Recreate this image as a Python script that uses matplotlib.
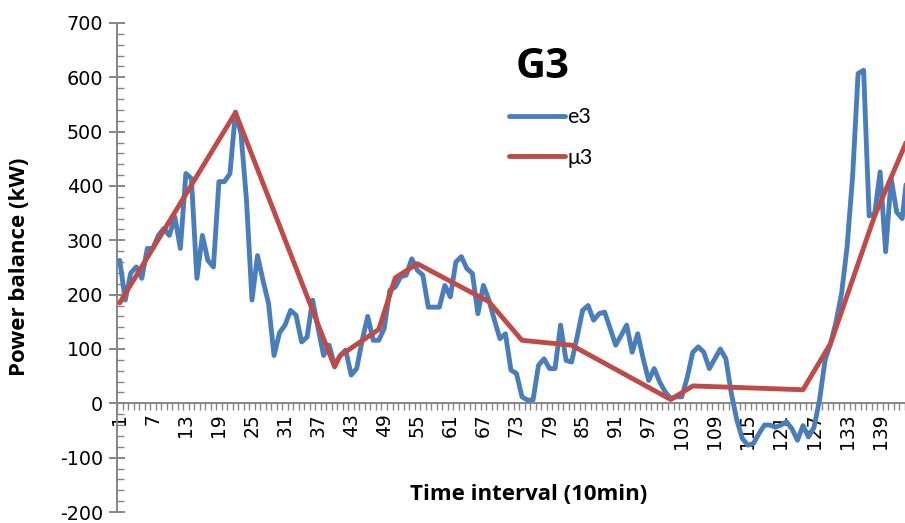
import numpy as np
import matplotlib
matplotlib.use("Agg")
import matplotlib.pyplot as plt
from matplotlib.ticker import FixedLocator, MultipleLocator

plt.rcParams["axes.unicode_minus"] = False

# ---- data ----
e3 = [263, 190, 240, 251, 230, 285, 285, 309, 322, 309,
      343, 285, 423, 414, 230, 309, 263, 251, 408, 408,
      423, 536, 497, 374, 190, 272, 226, 184, 88, 130,
      144, 171, 162, 113, 122, 190, 138, 88, 107, 70,
      88, 98, 52, 64, 116, 160, 116, 116, 138, 208,
      214, 233, 236, 266, 245, 236, 177, 177, 177, 217,
      196, 260, 270, 248, 239, 165, 217, 190, 153, 119,
      128, 61, 55, 12, 6, 6, 70, 82, 64, 64,
      144, 79, 76, 122, 171, 180, 153, 165, 168, 138,
      107, 125, 144, 94, 128, 82, 42, 64, 39, 21,
      9, 12, 12, 48, 94, 104, 94, 64, 82, 100,
      82, 18, -31, -65, -77, -74, -56, -40, -40, -44,
      -40, -34, -47, -68, -41, -62, -44, 6, 79, 110,
      150, 202, 288, 417, 607, 613, 345, 349, 426, 279,
      414, 352, 340, 430]
time_idx = list(range(1, len(e3) + 1))

mu3_x = [1, 22, 40, 41, 48, 51, 55, 68, 74, 83, 101, 105, 125, 130, 138, 144]
mu3_y = [185, 535, 67, 88, 136, 231, 257, 187, 116, 107, 7, 32, 25, 110, 345, 487]

xtick_labels = [str(v) for v in range(1, 140, 6)]
title = "G3"

# ---- figure ----
W, H = 905, 523
fig = plt.figure(figsize=(W / 100, H / 100), dpi=100)
ax_left, ax_right, ax_top, ax_bot = 117, 905, 23, 512
ax = fig.add_axes([ax_left / W, 1 - ax_bot / H, (ax_right - ax_left) / W, (ax_bot - ax_top) / H])

blue = "#4A7EBB"
red = "#BE4B48"
grey = "#868686"

ax.plot(time_idx, e3, color=blue, lw=3.5, solid_joinstyle="round", solid_capstyle="round", label="e3", zorder=3)
ax.plot(mu3_x, mu3_y, color=red, lw=3.5, solid_joinstyle="round", solid_capstyle="round", label="μ3", zorder=4)

spacing = 5.51
ax.set_xlim(0.5, 0.5 + (ax_right - ax_left) / spacing)
ax.set_ylim(-200, 700)

for s in ["top", "right"]:
    ax.spines[s].set_visible(False)
ax.spines["left"].set_color(grey)
ax.spines["left"].set_linewidth(1.4)
ax.spines["bottom"].set_position(("data", 0))
ax.spines["bottom"].set_color(grey)
ax.spines["bottom"].set_linewidth(1.4)

# y ticks
ax.yaxis.set_major_locator(MultipleLocator(100))
ax.yaxis.set_minor_locator(MultipleLocator(20))
ax.tick_params(axis="y", which="major", direction="inout", length=12, width=1.4, color=grey,
               labelsize=13.8, pad=4)
ax.tick_params(axis="y", which="minor", direction="in", length=5, width=1.0, color=grey)

# x ticks
label_pos = [int(t) for t in xtick_labels]
ax.xaxis.set_major_locator(FixedLocator(label_pos))
ax.set_xticklabels(xtick_labels, rotation=90, va="top", ha="center")
ax.xaxis.set_minor_locator(FixedLocator(np.arange(0.5, 145.5, 1.0)))
ax.tick_params(axis="x", which="major", length=0, labelsize=13.5, pad=7)
ax.tick_params(axis="x", which="minor", direction="out", length=5, width=1.0, color=grey)

# labels
fig.text(20 / W, 1 - 267 / H, "Power balance (kW)", rotation=90, ha="center", va="center",
         fontsize=16, fontweight="bold", family="Open Sans")
fig.text(529 / W, 1 - 495 / H, "Time interval (10min)", ha="center", va="center",
         fontsize=16, fontweight="bold", family="Open Sans")
fig.text(543 / W, 1 - 67 / H, title, ha="center", va="center", fontsize=30,
         fontweight="bold", family="Open Sans")

leg = ax.legend(loc="upper left", bbox_to_anchor=(490 / W, 1 - 88 / H),
                bbox_transform=fig.transFigure, frameon=False, handlelength=2.6,
                handletextpad=0.1, labelspacing=0.95, prop={"family": "Lato", "size": 15.5})

fig.savefig("out.png", dpi=100)
